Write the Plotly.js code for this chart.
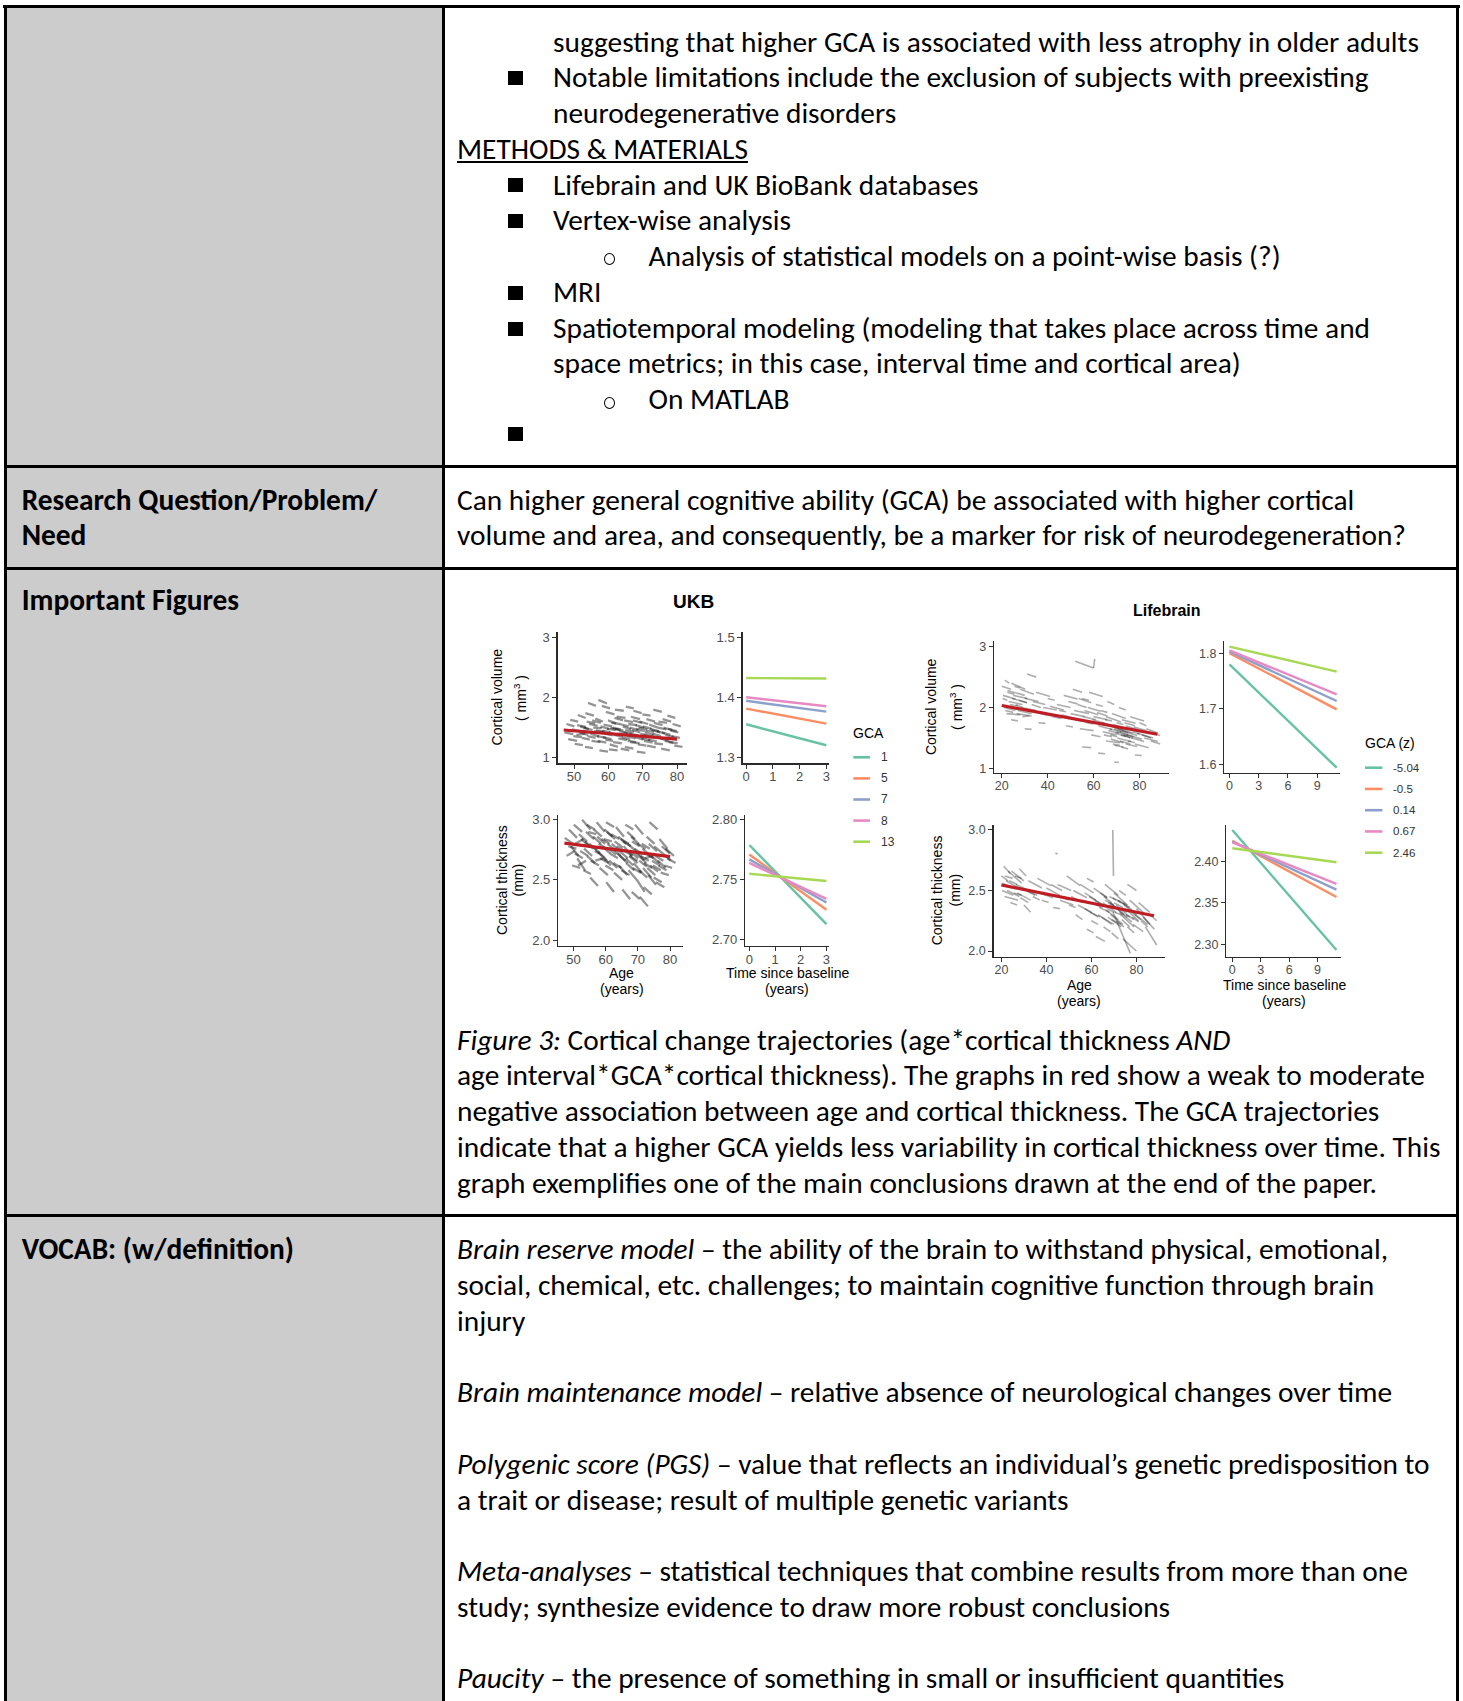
<!DOCTYPE html>
<html><head><meta charset="utf-8">
<script src="https://cdn.plot.ly/plotly-3.0.1.min.js"></script>
<style>
html,body{margin:0;padding:0;background:#fff;}
#page{position:relative;width:1463px;height:1701px;overflow:hidden;font-family:Carlito,Lato,'Open Sans',sans-serif;color:#000;background:#fff;}
.ln{position:absolute;white-space:nowrap;line-height:0;font-size:24px;}
.ln.b{font-weight:bold;}
.sq{position:absolute;width:15px;height:14px;background:#000;}
.ci{position:absolute;width:9px;height:10px;border:1.4px solid #000;border-radius:50%;}
.bd{position:absolute;background:#000;}
#gray{position:absolute;left:6px;top:7px;width:437px;height:1694px;background:#cccccc;}
#fig{position:absolute;left:450px;top:580px;width:1000px;height:440px;}
</style></head>
<body>
<div id="page">
  <div id="gray"></div>
  <div class="bd" style="left:3px;top:5px;width:1457px;height:3px;"></div>
  <div class="bd" style="left:4px;top:5px;width:3px;height:1696px;"></div>
  <div class="bd" style="left:1456px;top:5px;width:3px;height:1696px;"></div>
  <div class="bd" style="left:442px;top:5px;width:3px;height:1696px;"></div>
  <div class="bd" style="left:4px;top:465px;width:1455px;height:3px;"></div>
  <div class="bd" style="left:4px;top:566.5px;width:1455px;height:3px;"></div>
  <div class="bd" style="left:4px;top:1213.5px;width:1455px;height:3px;"></div>
  <div id="txt"></div>
  <div id="fig"></div>
</div>
<script>
// ---------------- chart data ----------------
const ukbAgeTicks = [50, 60, 70, 80];
const ukbTimeTicks = [0, 1, 2, 3];
const lbAgeTicks = [20, 40, 60, 80];
const lbTimeTicks = [0, 3, 6, 9];
const ukbVolTicks = [1, 2, 3];          const ukbVolTickText = ['1', '2', '3'];
const ukbVolTimeTicks = [1.3, 1.4, 1.5]; const ukbVolTimeTickText = ['1.3', '1.4', '1.5'];
const ukbThkTicks = [2.0, 2.5, 3.0];     const ukbThkTickText = ['2.0', '2.5', '3.0'];
const ukbThkTimeTicks = [2.70, 2.75, 2.80]; const ukbThkTimeTickText = ['2.70', '2.75', '2.80'];
const lbVolTicks = [1, 2, 3];            const lbVolTickText = ['1', '2', '3'];
const lbVolTimeTicks = [1.6, 1.7, 1.8];  const lbVolTimeTickText = ['1.6', '1.7', '1.8'];
const lbThkTicks = [2.0, 2.5, 3.0];      const lbThkTickText = ['2.0', '2.5', '3.0'];
const lbThkTimeTicks = [2.30, 2.35, 2.40]; const lbThkTimeTickText = ['2.30', '2.35', '2.40'];

// individual trajectories (start age, end age, start value, end value)
const ukbVolA0 = [47.2,47.8,48.3,48.9,49.4,50.2,50.7,51.1,51.8,52.3,52.6,53.2,53.7,54.1,54.8,55.1,55.6,56.2,56.7,57.1,57.4,58.2,58.6,59.1,59.3,60.1,60.4,60.9,61.6,62.1,62.4,62.9,63.6,64.2,64.4,65.1,65.3,65.8,66.4,66.9,67.2,67.7,68.3,68.8,69.3,69.9,70.4,70.8,71.3,71.9,72.3,73.1,73.4,74.2,74.6,75.2,75.4,76.1,76.6,77.2,77.6,78.1,78.7,79.2,63.1,66.1,68.1,70.2,61.2,58.9,55.9,72.6,
  52.9,53.9,54.4,55.3,56.4,56.9,57.7,58.4,59.6,59.9,60.6,61.4,61.8,62.6,63.3,63.9,64.6,64.9,65.6,66.2,66.6,67.4,67.9,68.6,69.1,69.6,70.1,70.6,71.1,71.6,72.1,72.8,73.3,73.8,74.4,75.6,76.4,77.4,78.4,49.8,50.9,51.6,53.3,58.1,61.9,67.3,75.8,64.8,60.2];
const ukbVolA1 = [49.8,50.1,50.9,51.2,52.0,52.6,53.3,53.4,54.3,54.6,55.2,55.5,56.2,56.4,57.3,57.7,58.1,58.4,59.3,59.6,59.9,60.6,61.1,61.4,61.8,62.7,62.8,63.4,64.1,64.4,65.0,65.4,66.1,66.6,67.0,67.4,67.9,68.3,69.1,69.3,69.8,70.3,70.8,71.4,71.7,72.3,72.9,73.3,73.8,74.4,74.8,75.6,75.9,76.5,77.1,77.6,77.9,78.6,79.1,79.5,80.2,80.4,81.1,81.6,65.6,68.7,70.6,72.7,63.6,61.3,58.5,75.1,
  55.4,56.3,56.9,57.8,58.9,59.4,60.2,60.9,62.2,62.3,63.1,63.9,64.3,65.2,65.9,66.4,67.2,67.5,68.1,68.8,69.2,70.1,70.4,71.1,71.6,72.2,72.6,73.2,73.6,74.1,74.7,75.3,75.8,76.3,76.9,78.1,78.9,79.9,80.9,52.3,53.5,54.1,55.8,60.5,64.5,69.7,78.3,67.3,62.7];
const ukbVolV0 = [1.42,1.56,1.31,1.63,1.47,1.23,1.38,1.71,1.52,1.33,1.45,1.18,1.60,1.91,1.40,1.28,1.50,1.65,1.36,1.96,1.12,1.45,1.55,1.30,1.76,1.42,1.22,1.58,1.38,1.48,1.68,1.32,1.15,1.52,1.42,1.85,1.36,1.56,1.26,1.46,1.62,1.34,1.10,1.50,1.40,1.72,1.28,1.45,1.20,1.55,1.36,1.80,1.24,1.44,1.60,1.32,1.15,1.50,1.38,1.70,1.26,1.45,1.56,1.20,1.44,1.40,1.48,1.38,1.50,1.40,1.44,1.46,
  1.50,1.36,1.56,1.62,1.46,1.28,1.52,1.34,1.48,1.62,1.50,1.26,1.66,1.40,1.56,1.34,1.62,1.46,1.28,1.50,1.68,1.38,1.54,1.22,1.60,1.32,1.52,1.42,1.64,1.30,1.48,1.40,1.58,1.34,1.50,1.42,1.28,1.48,1.36,1.36,1.54,1.42,1.74,1.86,1.80,1.78,1.64,1.18,1.14];
const ukbVolV1 = [1.39,1.52,1.28,1.60,1.44,1.21,1.40,1.66,1.47,1.30,1.41,1.16,1.57,1.86,1.35,1.26,1.49,1.60,1.33,1.90,1.10,1.42,1.52,1.28,1.72,1.38,1.18,1.56,1.35,1.45,1.66,1.29,1.12,1.47,1.40,1.82,1.32,1.54,1.24,1.42,1.58,1.30,1.08,1.47,1.36,1.70,1.25,1.43,1.17,1.50,1.33,1.76,1.22,1.40,1.58,1.28,1.12,1.46,1.34,1.66,1.24,1.42,1.52,1.18,1.41,1.37,1.44,1.35,1.47,1.37,1.42,1.42,
  1.46,1.33,1.53,1.58,1.43,1.25,1.48,1.31,1.46,1.57,1.46,1.24,1.62,1.37,1.52,1.30,1.59,1.43,1.26,1.46,1.64,1.34,1.50,1.20,1.56,1.29,1.48,1.38,1.60,1.27,1.44,1.36,1.54,1.31,1.47,1.38,1.25,1.44,1.33,1.34,1.51,1.38,1.70,1.82,1.78,1.74,1.60,1.15,1.12];

const ukbThkA0 = [47.3,47.9,48.6,49.2,49.6,50.1,50.6,51.2,51.7,52.1,52.7,53.1,53.6,54.2,54.6,55.2,55.7,56.1,56.8,57.2,57.6,58.1,58.7,59.2,59.6,60.2,60.6,61.1,61.7,62.2,62.6,63.2,63.7,64.1,64.7,65.2,65.6,66.2,66.7,67.1,67.6,68.2,68.7,69.1,69.7,70.2,70.6,71.2,71.6,72.1,72.7,73.2,73.6,74.1,74.7,75.1,75.6,76.2,76.7,77.1,77.7,78.2,78.6,79.1,60.8,64.3,67.3,70.4,57.8,62.8,68.9,73.8,
  52.4,53.3,53.9,54.9,55.4,56.3,56.6,57.4,58.3,58.9,59.4,59.9,60.4,61.3,61.9,62.4,63.4,63.9,64.4,64.9,65.4,65.9,66.4,66.9,67.4,67.9,68.4,69.4,69.9,70.4,70.9,71.4,71.9,72.4,72.9,73.4,74.4,74.9,75.4,76.4,77.4,48.4,50.4,51.4,54.1,60.1,66.1,71.8,68.1];
const ukbThkA1 = [49.9,50.4,51.1,51.6,52.1,52.7,53.1,53.6,54.2,54.5,55.3,55.4,56.1,56.7,57.1,57.6,58.2,58.6,59.2,59.7,60.1,60.7,61.2,61.6,62.1,62.6,63.2,63.6,64.2,64.6,65.1,65.7,66.1,66.7,67.2,67.6,68.2,68.6,69.1,69.7,70.1,70.6,71.2,71.6,72.1,72.6,73.1,73.7,74.2,74.6,75.2,75.6,76.1,76.7,77.1,77.7,78.2,78.6,79.2,79.6,80.2,80.6,81.2,81.7,63.3,66.9,69.9,72.8,60.3,65.3,71.3,76.3,
  54.9,55.8,56.4,57.4,57.9,58.8,59.1,59.8,60.9,61.4,61.9,62.4,62.9,63.8,64.4,64.9,65.9,66.4,66.8,67.4,67.8,68.4,68.9,69.4,69.9,70.3,70.9,71.9,72.4,72.9,73.4,73.9,74.4,74.9,75.4,75.9,76.9,77.4,77.9,78.9,79.9,50.9,52.9,53.9,56.6,62.6,68.6,74.3,70.6];
const ukbThkV0 = [2.85,2.70,2.92,2.78,2.62,2.96,2.80,2.68,2.88,2.74,3.00,2.58,2.82,2.70,2.90,2.52,2.78,2.86,2.66,2.98,2.74,2.60,2.84,2.70,2.92,2.48,2.80,2.66,2.88,2.76,2.56,2.94,2.72,2.62,2.84,2.42,2.78,2.68,2.90,2.58,2.74,2.82,2.64,2.96,2.50,2.72,2.36,2.80,2.60,2.68,2.86,2.54,2.98,2.70,2.62,2.78,2.48,2.66,2.84,2.56,2.72,2.62,2.76,2.68,2.76,2.74,2.70,2.66,2.80,2.82,2.76,2.62,
  2.84,2.76,2.90,2.80,2.66,2.92,2.74,2.86,2.68,2.78,2.84,2.62,2.90,2.72,2.80,2.64,2.78,2.86,2.70,2.58,2.82,2.74,2.64,2.80,2.70,2.86,2.60,2.72,2.80,2.58,2.70,2.76,2.64,2.72,2.60,2.80,2.66,2.52,2.70,2.62,2.78,2.78,2.72,2.62,2.96,2.98,2.96,2.44,2.40];
const ukbThkV1 = [2.80,2.74,2.85,2.70,2.60,2.90,2.84,2.58,2.82,2.70,2.92,2.55,2.76,2.64,2.88,2.45,2.72,2.80,2.68,2.90,2.66,2.54,2.80,2.62,2.86,2.40,2.74,2.60,2.84,2.70,2.50,2.86,2.66,2.54,2.80,2.34,2.70,2.62,2.84,2.50,2.68,2.78,2.56,2.88,2.40,2.64,2.28,2.76,2.52,2.70,2.80,2.46,2.92,2.64,2.58,2.72,2.44,2.60,2.76,2.54,2.66,2.60,2.70,2.64,2.71,2.68,2.64,2.61,2.76,2.77,2.72,2.57,
  2.78,2.70,2.84,2.75,2.62,2.86,2.70,2.80,2.64,2.72,2.82,2.58,2.84,2.68,2.74,2.60,2.74,2.80,2.64,2.54,2.78,2.70,2.58,2.74,2.66,2.80,2.56,2.66,2.76,2.52,2.66,2.70,2.60,2.68,2.54,2.74,2.62,2.48,2.66,2.58,2.72,2.76,2.68,2.66,2.92,2.94,2.92,2.38,2.34];

const lbVolA0 = [20,20.4,21,21.3,22,22.4,23,24,24.2,25,26,27,28,29,30,31,32,33,35,36,38,40,42,44,45,47,48,50,51,52,53,54,55,56,57,58,59,60,61,62,63,64,65,65.4,66,67,67.3,68,68.4,69,70,70.3,71,71.4,72,72.3,73,74,75,76,77,78,80,81,83,85,30,55,62,78,69,52,60,
  20.5,21.5,22.5,23.5,24.5,25.5,26.5,27.5,28.5,33.5,37,41,46,49,51.5,53.5,55.5,57.5,59.5,61.5,63.5,64.5,65.5,66.5,67.5,68.5,69.5,70.5,71.5,72.5,73.5,74.5,75.5,76.5,77.5,79,82,84,67,70,72,66,69,74];
const lbVolA1 = [24,22.4,26,23.3,28,25.4,29,27,30.2,31,29,33,34,32,36,35,38,37,41,39,44,43,46,50,48,53,51,56,55,58,57,60,58,62,60,64,63,66,64,68,66,70,68,71.4,69,73,70.3,74,71.4,75,73,76.3,74,77.4,75,78.3,76,80,78,82,80,84,83,86,88,89,33,59,65,81,71,60,60.5,
  26,25,30,27,31,28,33,31,35,39,42,47,52,53,58,59,61,63,65,66,70,68,72,71,73,75,74,77,76,79,78,81,80,82,83,85,88,89,72,75,77,71,73,79];
const lbVolV0 = [2.35,2.15,2.00,2.45,1.90,2.25,2.10,1.80,2.40,2.20,2.05,1.95,2.30,1.85,2.15,2.55,1.95,2.05,2.25,1.75,2.00,2.15,1.85,2.05,1.95,2.20,1.70,1.90,2.30,1.80,2.05,1.65,2.15,1.95,1.75,2.25,1.55,1.85,2.05,1.70,1.95,1.60,1.80,1.45,2.10,1.70,1.55,1.90,1.40,1.65,1.75,1.50,2.00,1.60,1.35,1.80,1.55,1.70,1.45,1.85,1.60,1.40,1.75,1.55,1.65,1.45,1.65,1.35,1.25,1.22,1.10,2.76,2.65,
  2.20,1.95,2.28,2.05,2.15,2.35,1.90,2.12,2.00,2.10,1.90,2.02,1.88,2.10,1.95,2.15,1.85,2.00,1.80,1.92,1.75,1.55,1.85,1.62,1.48,1.72,1.58,1.66,1.45,1.62,1.75,1.55,1.65,1.50,1.68,1.58,1.50,1.60,1.65,1.60,1.55,1.72,1.38,1.40];
const lbVolV1 = [2.30,2.12,1.95,2.40,1.88,2.22,2.05,1.78,2.30,2.15,2.00,1.90,2.22,1.86,2.10,2.50,1.92,2.00,2.18,1.74,1.96,2.12,1.82,2.00,1.93,2.14,1.68,1.85,2.25,1.76,2.00,1.62,2.12,1.88,1.73,2.18,1.52,1.80,2.02,1.64,1.92,1.55,1.78,1.42,2.05,1.62,1.52,1.82,1.38,1.58,1.72,1.44,1.96,1.52,1.32,1.74,1.50,1.62,1.42,1.78,1.56,1.34,1.70,1.50,1.58,1.40,1.64,1.34,1.24,1.21,1.10,2.65,2.80,
  2.14,1.92,2.20,2.02,2.08,2.32,1.86,2.08,1.95,2.05,1.86,1.96,1.82,2.06,1.90,2.08,1.80,1.94,1.74,1.86,1.68,1.52,1.76,1.58,1.42,1.64,1.52,1.58,1.40,1.54,1.70,1.48,1.60,1.44,1.62,1.50,1.44,1.54,1.60,1.54,1.50,1.66,1.35,1.36];

const lbThkA0 = [20,20.3,21,21.4,22,23,24,25,26,27,28,29,30,32,34,36,38,40,43,45,47,49,50,52,53,55,56,57,58,59,60,61,62,63,64,65,65.4,66,67,67.3,68,68.4,69,70,70.3,71,71.4,72,72.3,73,74,75,76,77,78,80,82,84,86,62,74,58,44,76,69.5,69.6,
  20.5,21.5,22.5,23.5,24.5,25.5,26.5,28.5,31,37,42,46,51,54,57,59.5,61.5,63.5,64.5,65.5,66.5,67.5,68.5,69.5,70.5,71.5,72.5,73.5,74.5,75.5,76.5,78.5,79.5,81,83,68,70,72,69,66];
const lbThkA1 = [23,25.3,24,27.4,25,29,27,30,29,33,31,35,33,38,37,42,41,46,46,51,50,55,53,58,56,61,59,63,61,65,63,67,65,69,67,71,68.4,72,70,73.3,71,74.4,72,76,73.3,77,74.4,78,75.3,79,77,81,79,83,81,86,85,89,89,66,80,61,45,80,69.8,77.3,
  26,25,28,27,30,29,32,32,36,43,47,52,56,60,62,64,67,68,70,69,72,71,74,73,76,75,78,77,80,79,82,83,85,86,88,73,74,76,73,70];
const lbThkV0 = [2.62,2.50,2.70,2.45,2.58,2.66,2.40,2.55,2.62,2.48,2.68,2.52,2.38,2.58,2.45,2.60,2.42,2.52,2.36,2.55,2.45,2.62,2.38,2.50,2.30,2.55,2.42,2.35,2.60,2.45,2.25,2.52,2.38,2.30,2.48,2.40,2.20,2.55,2.35,2.28,2.45,2.40,2.15,2.48,2.32,2.38,2.25,2.42,2.50,2.30,2.40,2.35,2.20,2.42,2.28,2.35,2.25,2.20,2.30,2.12,2.10,2.18,2.81,2.55,3.00,2.32,
  2.56,2.62,2.50,2.58,2.66,2.48,2.55,2.44,2.50,2.48,2.55,2.42,2.45,2.38,2.48,2.32,2.42,2.36,2.28,2.45,2.34,2.40,2.30,2.44,2.36,2.42,2.32,2.26,2.38,2.30,2.34,2.22,2.30,2.40,2.28,2.38,2.40,2.36,2.26,2.42];
const lbThkV1 = [2.58,2.46,2.64,2.42,2.55,2.56,2.38,2.50,2.60,2.42,2.62,2.46,2.32,2.52,2.42,2.54,2.40,2.46,2.35,2.50,2.42,2.54,2.36,2.44,2.26,2.48,2.40,2.28,2.57,2.38,2.22,2.44,2.36,2.22,2.44,2.32,2.16,2.46,2.32,2.20,2.42,2.30,2.10,2.38,2.30,2.28,2.20,2.34,2.46,2.20,2.36,2.25,2.15,2.32,2.24,2.22,2.20,2.05,2.25,2.08,2.00,2.15,2.80,2.50,2.62,1.98,
  2.52,2.60,2.45,2.55,2.58,2.46,2.50,2.40,2.46,2.44,2.50,2.38,2.40,2.32,2.42,2.28,2.36,2.32,2.22,2.40,2.26,2.36,2.22,2.40,2.28,2.38,2.24,2.20,2.30,2.26,2.26,2.16,2.22,2.32,2.18,2.34,2.36,2.32,2.22,2.38];

// fitted age trends (red)
const ukbVolFitAge = [47, 80];   const ukbVolFit = [1.46, 1.31];
const ukbThkFitAge = [47.2, 80]; const ukbThkFit = [2.806, 2.694];
const lbVolFitAge = [20, 87.8];  const lbVolFit = [2.033, 1.56];
const lbThkFitAge = [20, 87.8];  const lbThkFit = [2.545, 2.291];

// GCA trajectories
const ukbGca = ['1', '5', '7', '8', '13'];
const ukbTime = [0, 3];
const ukbVolStart = [1.355, 1.381, 1.394, 1.400, 1.432];
const ukbVolEnd   = [1.320, 1.356, 1.376, 1.385, 1.431];
const ukbThkStart = [2.779, 2.771, 2.767, 2.764, 2.755];
const ukbThkEnd   = [2.713, 2.725, 2.731, 2.734, 2.749];
const lbGca = ['-5.04', '-0.5', '0.14', '0.67', '2.46'];
const lbTime = [0, 11];
const lbVolStart = [1.780, 1.800, 1.803, 1.805, 1.812];
const lbVolEnd   = [1.594, 1.699, 1.714, 1.726, 1.767];
const lbThkStart = [2.438, 2.425, 2.424, 2.423, 2.416];
const lbThkEnd   = [2.293, 2.357, 2.366, 2.373, 2.399];

// ---------------- document text ----------------
const L1X = 553, L0X = 457, L2X = 648.5, LEFTX = 21.7;
const textLines = [
  [L1X, 42.5, 'suggesting that higher GCA is associated with less atrophy in older adults', 0, ''],
  [L1X, 77.5, 'Notable limitations include the exclusion of subjects with preexisting', 0, 'sq'],
  [L1X, 113.3, 'neurodegenerative disorders', 0, ''],
  [L0X, 149.1, '<u>METHODS &amp; MATERIALS</u>', 0, ''],
  [L1X, 184.9, 'Lifebrain and UK BioBank databases', 0, 'sq'],
  [L1X, 220.7, 'Vertex-wise analysis', 0, 'sq'],
  [L2X, 256.4, 'Analysis of statistical models on a point-wise basis (?)', 0, 'ci'],
  [L1X, 292.2, 'MRI', 0, 'sq'],
  [L1X, 328.0, 'Spatiotemporal modeling (modeling that takes place across time and', 0, 'sq'],
  [L1X, 363.8, 'space metrics; in this case, interval time and cortical area)', 0, ''],
  [L2X, 399.6, 'On MATLAB', 0, 'ci'],
  [L1X, 433.5, '', 0, 'sq'],
  [LEFTX, 500.0, 'Research Question/Problem/', 1, ''],
  [LEFTX, 535.7, 'Need', 1, ''],
  [L0X, 500.0, 'Can higher general cognitive ability (GCA) be associated with higher cortical', 0, ''],
  [L0X, 535.7, 'volume and area, and consequently, be a marker for risk of neurodegeneration?', 0, ''],
  [LEFTX, 600.8, 'Important Figures', 1, ''],
  [L0X, 1040.0, '<i>Figure 3:</i> Cortical change trajectories (age*cortical thickness <i>AND</i>', 0, ''],
  [L0X, 1075.8, 'age interval*GCA*cortical thickness). The graphs in red show a weak to moderate', 0, ''],
  [L0X, 1111.6, 'negative association between age and cortical thickness. The GCA trajectories', 0, ''],
  [L0X, 1147.4, 'indicate that a higher GCA yields less variability in cortical thickness over time. This', 0, ''],
  [L0X, 1183.2, 'graph exemplifies one of the main conclusions drawn at the end of the paper.', 0, ''],
  [LEFTX, 1249.3, 'VOCAB: (w/definition)', 1, ''],
  [L0X, 1249.3, '<i>Brain reserve model</i> – the ability of the brain to withstand physical, emotional,', 0, ''],
  [L0X, 1285.1, 'social, chemical, etc. challenges; to maintain cognitive function through brain', 0, ''],
  [L0X, 1320.9, 'injury', 0, ''],
  [L0X, 1392.5, '<i>Brain maintenance model</i> – relative absence of neurological changes over time', 0, ''],
  [L0X, 1464.0, '<i>Polygenic score (PGS)</i> – value that reflects an individual’s genetic predisposition to', 0, ''],
  [L0X, 1499.9, 'a trait or disease; result of multiple genetic variants', 0, ''],
  [L0X, 1571.4, '<i>Meta-analyses</i> – statistical techniques that combine results from more than one', 0, ''],
  [L0X, 1607.2, 'study; synthesize evidence to draw more robust conclusions', 0, ''],
  [L0X, 1678.8, '<i>Paucity</i> – the presence of something in small or insufficient quantities', 0, '']
];

const txt = document.getElementById('txt');
const lineEls = [];
textLines.forEach(function (t) {
  if (t[2] !== '') {
    const d = document.createElement('div');
    d.className = 'ln' + (t[3] ? ' b' : '');
    d.style.left = t[0] + 'px';
    d.innerHTML = '<span>' + t[2] + '</span>';
    d.dataset.cy = t[1];
    txt.appendChild(d);
    lineEls.push(d);
  }
  if (t[4] === 'sq') {
    const s = document.createElement('div');
    s.className = 'sq';
    s.style.left = '508px';
    s.style.top = (t[1] - 6.5) + 'px';
    txt.appendChild(s);
  } else if (t[4] === 'ci') {
    const c = document.createElement('div');
    c.className = 'ci';
    c.style.left = '604px';
    c.style.top = (t[1] - 3) + 'px';
    txt.appendChild(c);
  }
});
// fit font size so the first line spans the same width as in the reference
(function fitText() {
  const w = lineEls[0].firstChild.getBoundingClientRect().width;
  let fs = 24 * 866 / w;
  if (!(fs > 18 && fs < 30)) fs = 24;
  lineEls.forEach(function (d) {
    d.style.fontSize = fs + 'px';
    d.style.top = (parseFloat(d.dataset.cy) - 0.14 * fs + 3.8) + 'px';
  });
})();

// ---------------- figure ----------------
const FX0 = 450, FY0 = 580, FW = 1000, FH = 440;
const px = X => (X - FX0) / FW;
const py = Y => 1 - (Y - FY0) / FH;
const FONT = 'Liberation Sans, Arial, Helvetica, sans-serif';
const SET2 = ['#66C2A5', '#FC8D62', '#8DA0CB', '#E78AC3', '#A6D854'];
const RED = '#BE1E23';

function segs(a0, a1, v0, v1) {
  const x = [], y = [];
  for (let i = 0; i < a0.length; i++) {
    x.push(a0[i], a1[i], null);
    y.push(v0[i], v1[i], null);
  }
  return { x: x, y: y };
}

const panels = [
  { xd: [557.7, 687.3], yd: [631.7, 763.3], xr: [45.25, 83.0], yr: [0.907, 3.093], xt: ukbAgeTicks, yt: ukbVolTicks, ytt: ukbVolTickText, fs: 13 },
  { xd: [742.7, 829.0], yd: [631.7, 763.3], xr: [-0.13, 3.1], yr: [1.29, 1.509], xt: ukbTimeTicks, yt: ukbVolTimeTicks, ytt: ukbVolTimeTickText, fs: 13 },
  { xd: [558.3, 683.3], yd: [815, 945.7], xr: [45.3, 84.1], yr: [1.953, 3.04], xt: ukbAgeTicks, yt: ukbThkTicks, ytt: ukbThkTickText, fs: 13 },
  { xd: [745.3, 829.0], yd: [815, 945.7], xr: [-0.156, 3.1], yr: [2.695, 2.804], xt: ukbTimeTicks, yt: ukbThkTimeTicks, ytt: ukbThkTimeTickText, fs: 13 },
  { xd: [994.2, 1169.1], yd: [641, 772.7], xr: [16.7, 92.9], yr: [0.928, 3.094], xt: lbAgeTicks, yt: lbVolTicks, ytt: lbVolTickText, fs: 12.5 },
  { xd: [1224.3, 1340.3], yd: [641, 772.7], xr: [-0.53, 11.37], yr: [1.585, 1.822], xt: lbTimeTicks, yt: lbVolTimeTicks, ytt: lbVolTimeTickText, fs: 12.5 },
  { xd: [993.5, 1165.0], yd: [825, 956.7], xr: [16.5, 92.7], yr: [1.953, 3.041], xt: lbAgeTicks, yt: lbThkTicks, ytt: lbThkTickText, fs: 12.5 },
  { xd: [1226.4, 1341.0], yd: [825, 956.7], xr: [-0.62, 11.48], yr: [2.285, 2.444], xt: lbTimeTicks, yt: lbThkTimeTicks, ytt: lbThkTimeTickText, fs: 12.5 }
];

const layout = {
  width: FW, height: FH,
  margin: { l: 0, r: 0, t: 0, b: 0, pad: 0 },
  paper_bgcolor: 'rgba(0,0,0,0)', plot_bgcolor: 'rgba(0,0,0,0)',
  showlegend: false,
  font: { family: FONT },
  annotations: [], shapes: []
};
panels.forEach(function (p, i) {
  const n = i === 0 ? '' : String(i + 1);
  const common = {
    showline: true, linecolor: '#2b2b2b', linewidth: 1.4,
    ticks: 'outside', ticklen: 4, tickwidth: 1, tickcolor: '#333',
    showgrid: false, zeroline: false, fixedrange: true,
    tickfont: { family: FONT, size: p.fs, color: '#4d4d4d' }
  };
  layout['xaxis' + n] = Object.assign({}, common, {
    domain: [px(p.xd[0]), px(p.xd[1])], range: p.xr,
    tickmode: 'array', tickvals: p.xt, ticktext: p.xt.map(String),
    ticklabelstandoff: -3,
    anchor: 'y' + n
  });
  layout['yaxis' + n] = Object.assign({}, common, {
    domain: [py(p.yd[1]), py(p.yd[0])], range: p.yr,
    tickmode: 'array', tickvals: p.yt, ticktext: p.ytt,
    anchor: 'x' + n
  });
});

const traces = [];
function ax(i) { return i === 0 ? ['x', 'y'] : ['x' + (i + 1), 'y' + (i + 1)]; }
function spaghetti(i, s, col, w) {
  const a = ax(i);
  traces.push({ type: 'scatter', mode: 'lines', x: s.x, y: s.y, xaxis: a[0], yaxis: a[1],
    line: { color: col, width: w }, hoverinfo: 'skip', connectgaps: false });
}
function fitLine(i, x, y) {
  const a = ax(i);
  traces.push({ type: 'scatter', mode: 'lines', x: x, y: y, xaxis: a[0], yaxis: a[1],
    line: { color: RED, width: 3.2 }, hoverinfo: 'skip' });
}
function gca(i, t, s, e, names) {
  const a = ax(i);
  for (let k = 0; k < s.length; k++) {
    traces.push({ type: 'scatter', mode: 'lines', name: names[k], x: t, y: [s[k], e[k]], xaxis: a[0], yaxis: a[1],
      line: { color: SET2[k], width: 2.4 }, hoverinfo: 'skip' });
  }
}
spaghetti(0, segs(ukbVolA0, ukbVolA1, ukbVolV0, ukbVolV1), 'rgba(0,0,0,0.42)', 2.3);
fitLine(0, ukbVolFitAge, ukbVolFit);
gca(1, ukbTime, ukbVolStart, ukbVolEnd, ukbGca);
spaghetti(2, segs(ukbThkA0, ukbThkA1, ukbThkV0, ukbThkV1), 'rgba(0,0,0,0.42)', 2.3);
fitLine(2, ukbThkFitAge, ukbThkFit);
gca(3, ukbTime, ukbThkStart, ukbThkEnd, ukbGca);
spaghetti(4, segs(lbVolA0, lbVolA1, lbVolV0, lbVolV1), 'rgba(0,0,0,0.32)', 1.6);
fitLine(4, lbVolFitAge, lbVolFit);
gca(5, lbTime, lbVolStart, lbVolEnd, lbGca);
spaghetti(6, segs(lbThkA0, lbThkA1, lbThkV0, lbThkV1), 'rgba(0,0,0,0.32)', 1.6);
fitLine(6, lbThkFitAge, lbThkFit);
gca(7, lbTime, lbThkStart, lbThkEnd, lbGca);

function A(X, Y, text, opt) {
  layout.annotations.push(Object.assign({
    xref: 'paper', yref: 'paper', x: px(X), y: py(Y), text: text, showarrow: false,
    xanchor: 'center', yanchor: 'middle', font: { family: FONT, size: 14, color: '#000' }
  }, opt || {}));
}
// titles
A(693.3, 601.7, '<b>UKB</b>', { font: { family: FONT, size: 19, color: '#000' } });
A(1167.4, 611, '<b>Lifebrain</b>', { font: { family: FONT, size: 16, color: '#000' } });
// axis titles UKB
A(496.7, 696.7, 'Cortical volume', { textangle: -90 });
A(520, 698, '( mm<sup>3</sup> )', { textangle: -90 });
A(502, 880, 'Cortical thickness', { textangle: -90 });
A(517.5, 880, '(mm)', { textangle: -90 });
A(621.7, 973.3, 'Age');
A(621.7, 989.3, '(years)');
A(787.3, 973.3, 'Time since baseline');
A(787.3, 989.3, '(years)');
// axis titles Lifebrain
A(930.4, 706.7, 'Cortical volume', { textangle: -90 });
A(956.2, 706.7, '( mm<sup>3</sup> )', { textangle: -90 });
A(937.3, 890, 'Cortical thickness', { textangle: -90 });
A(954.5, 890, '(mm)', { textangle: -90 });
A(1079.4, 985, 'Age');
A(1079.4, 1000.7, '(years)');
A(1284.3, 985, 'Time since baseline');
A(1284.3, 1000.7, '(years)');

// legends
function legend(title, tx, ty, sx0, sx1, lx, y0, dy, labels, lfs) {
  A(tx, ty, title, { xanchor: 'left', font: { family: FONT, size: 14, color: '#000' } });
  labels.forEach(function (lab, k) {
    const Y = y0 + k * dy;
    layout.shapes.push({ type: 'line', xref: 'paper', yref: 'paper',
      x0: px(sx0), x1: px(sx1), y0: py(Y), y1: py(Y), line: { color: SET2[k], width: 2.6 } });
    A(lx, Y, lab, { xanchor: 'left', font: { family: FONT, size: lfs, color: '#333' } });
  });
}
legend('GCA', 850.5, 733, 853.3, 870, 878.5, 757.3, 21.1, ukbGca, 12);
legend('GCA (z)', 1362.5, 743.3, 1365, 1382.4, 1390.5, 767.7, 21.25, lbGca, 11.5);

Plotly.newPlot('fig', traces, layout, { staticPlot: true, displayModeBar: false });
</script>
</body></html>
